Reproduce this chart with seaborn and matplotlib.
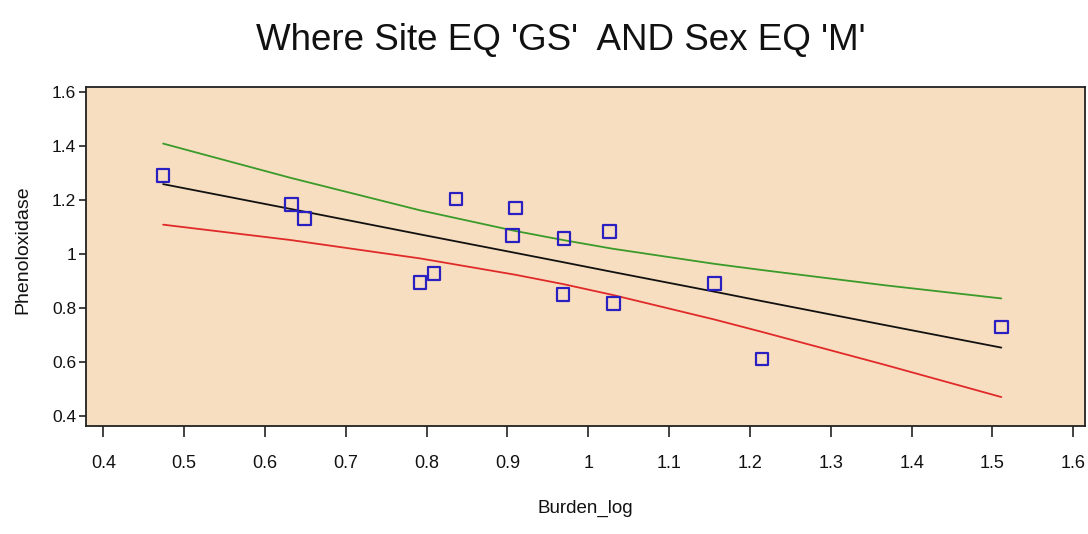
import numpy as np
import pandas as pd
import seaborn as sns
import matplotlib
matplotlib.use("Agg")
import matplotlib.pyplot as plt
from matplotlib.ticker import FuncFormatter

burden_log = [0.474, 0.633, 0.649, 0.792, 0.809, 0.836, 0.910, 0.906,
              0.970, 0.969, 1.026, 1.031, 1.156, 1.215, 1.511]
phenoloxidase = [1.290, 1.183, 1.130, 0.894, 0.927, 1.202, 1.169, 1.068,
                 1.057, 0.849, 1.083, 0.816, 0.890, 0.611, 0.730]

# Fitted line and 95% confidence limits
fit_x = [0.474, 0.632, 0.792, 0.909, 0.969, 1.030, 1.156, 1.215, 1.366, 1.511]
fit_y = [1.258, 1.166, 1.072, 1.004, 0.969, 0.933, 0.860, 0.825, 0.737, 0.653]
upper_y = [1.408, 1.281, 1.161, 1.085, 1.051, 1.019, 0.963, 0.940, 0.884, 0.835]
lower_y = [1.108, 1.051, 0.983, 0.923, 0.888, 0.848, 0.757, 0.711, 0.590, 0.470]

x_ticks = [0.4, 0.5, 0.6, 0.7, 0.8, 0.9, 1.0, 1.1, 1.2, 1.3, 1.4, 1.5, 1.6]
y_ticks = [0.4, 0.6, 0.8, 1.0, 1.2, 1.4, 1.6]

title = "Where Site EQ 'GS'  AND Sex EQ 'M'"

sns.set_theme(style="ticks")
plt.rcParams['font.family'] = ['Liberation Sans', 'DejaVu Sans']

fig = plt.figure(figsize=(10.88, 5.34), dpi=100)
ax = fig.add_axes([86 / 1088, 108 / 534, 999 / 1088, 339 / 534])
ax.set_facecolor("#F8DEC0")

pts = pd.DataFrame({"Burden_log": burden_log, "Phenoloxidase": phenoloxidase})
lines = pd.DataFrame({"x": fit_x, "fit": fit_y, "upper": upper_y, "lower": lower_y})

sns.lineplot(data=lines, x="x", y="upper", color="#3A9A2A", linewidth=1.3, ax=ax)
sns.lineplot(data=lines, x="x", y="lower", color="#E02A2A", linewidth=1.3, ax=ax)
sns.lineplot(data=lines, x="x", y="fit", color="#111111", linewidth=1.3, ax=ax)
sns.scatterplot(data=pts, x="Burden_log", y="Phenoloxidase", marker="s", s=80,
                facecolor="none", edgecolor="#2A1FC0", linewidth=1.6, ax=ax, zorder=5)

ax.set_xlim(0.3786, 1.6145)
ax.set_ylim(0.3629, 1.6174)
ax.set_xticks(x_ticks)
ax.set_yticks(y_ticks)
fmt = FuncFormatter(lambda v, p: f"{v:g}")
ax.xaxis.set_major_formatter(fmt)
ax.yaxis.set_major_formatter(fmt)

for s in ax.spines.values():
    s.set_visible(True)
    s.set_color("#222222")
    s.set_linewidth(1.3)

ax.tick_params(axis="x", direction="out", length=8, width=1.2, color="#222222",
               labelsize=13, pad=13, labelcolor="#111111")
ax.tick_params(axis="y", direction="out", length=5, width=1.2, color="#222222",
               labelsize=12.5, pad=2, labelcolor="#111111")

ax.set_xlabel("Burden_log", fontsize=13.5, labelpad=20, color="#111111")
ax.set_ylabel("Phenoloxidase", fontsize=14, color="#111111")
ax.yaxis.set_label_coords(-0.055, 0.52)

fig.text(0.5156, 0.925, title, ha="center", va="center", fontsize=26.5, color="#111111")

fig.savefig("out.png", dpi=100)
